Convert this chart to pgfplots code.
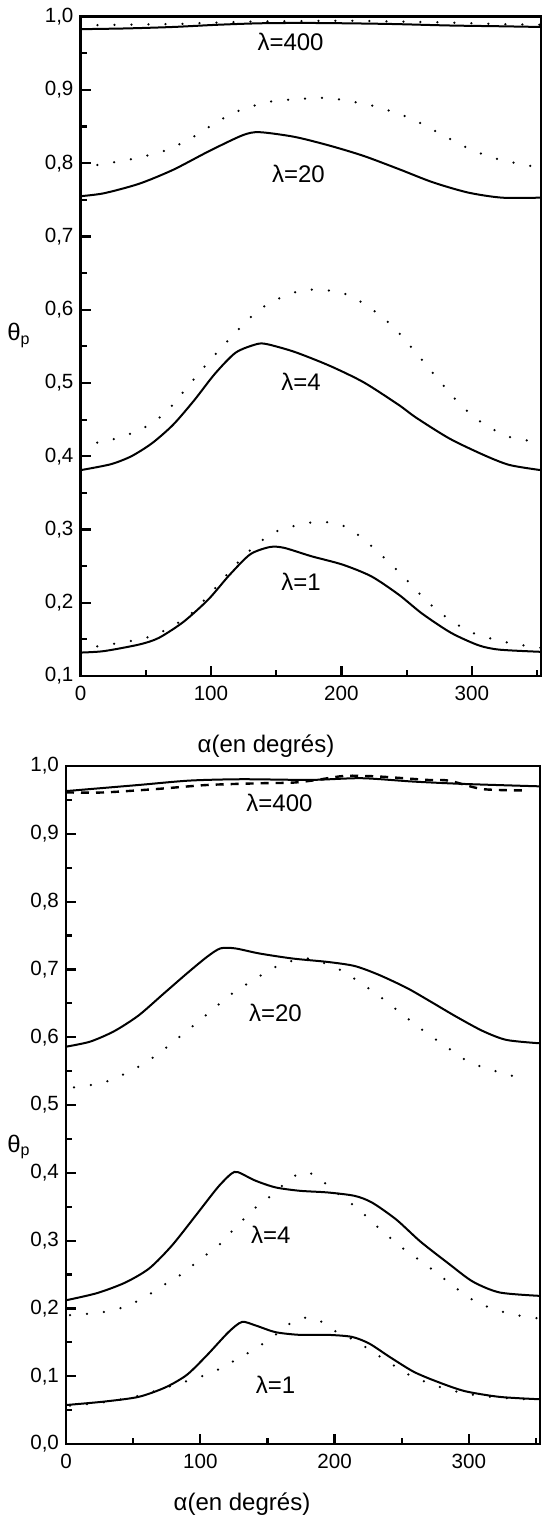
\documentclass[border=0pt]{standalone}
\usepackage{fontspec}
\setmainfont{Liberation Sans}
\usepackage{pgfplots}
\pgfplotsset{compat=1.18}

\pgfplotsset{
  thetaplot/.style={
    scale only axis,
    xmin=0, xmax=353,
    xtick={0,100,200,300},
    minor xtick={50,150,250,350},
    minor y tick num=1,
    tick align=inside,
    xtick pos=bottom, ytick pos=left,
    major tick length=5pt, minor tick length=3pt,
    every tick/.style={black, line width=1.1pt},
    axis line style={line width=1.4pt},
    tick label style={font=\fontsize{10.3}{12}\selectfont},
    /pgf/number format/assume math mode=true,
    yticklabel style={/pgf/number format/.cd, fixed, fixed zerofill, precision=1, use comma},
    xticklabel style={yshift=-1.5pt},
  },
  sol/.style={black, line width=1pt, smooth, tension=0.45},
  dotd/.style={black, line width=1.25pt, line cap=round, dash pattern=on 0pt off 8.5pt, smooth, tension=0.45},
  dashd/.style={black, line width=1.2pt, dash pattern=on 4pt off 3.5pt, smooth, tension=0.45},
}
\tikzset{lab/.style={font=\fontsize{12}{14}\selectfont}}

\begin{document}
\begin{tikzpicture}

% top panel
\begin{axis}[thetaplot,
  at={(40.25pt,-338pt)}, anchor=south west,
  width=230.25pt, height=329.65pt,
  ymin=0.1, ymax=1.0,
  ytick={0.1,0.2,0.3,0.4,0.5,0.6,0.7,0.8,0.9,1.0},
]
% lambda = 400
\addplot[sol] coordinates {
  (0,0.983) (35,0.984) (71,0.986) (105,0.989) (137,0.991) (170,0.9915)
  (204,0.991) (240,0.990) (283,0.988) (320,0.987) (353,0.986)
};
\addplot[dotd] coordinates {
  (0,0.988) (35,0.989) (71,0.990) (105,0.992) (137,0.9935) (170,0.994)
  (204,0.9945) (240,0.9935) (283,0.992) (320,0.990) (353,0.989)
};
% lambda = 20
\addplot[sol] coordinates {
  (0,0.755) (18,0.759) (45,0.772) (71,0.791) (98,0.816) (124,0.838)
  (137,0.8424) (164,0.836) (191,0.824) (217,0.810) (244,0.792)
  (270,0.774) (297,0.760) (323,0.753) (353,0.753)
};
\addplot[dotd] coordinates {
  (0,0.794) (39,0.8055) (66,0.818) (86,0.8355) (103,0.8545) (119,0.870)
  (145,0.884) (177,0.8885) (193,0.8885) (225,0.878) (252,0.862)
  (273,0.843) (294,0.823) (315,0.808) (342,0.797) (353,0.795)
};
% lambda = 4
\addplot[sol] coordinates {
  (0,0.381) (23,0.389) (39,0.400) (55,0.418) (71,0.443) (87,0.476)
  (103,0.5125) (119,0.5415) (135,0.553) (143,0.553) (164,0.5425)
  (191,0.5235) (217,0.501) (244,0.470) (257,0.453) (283,0.424)
  (310,0.401) (329,0.388) (353,0.381)
};
\addplot[dotd] coordinates {
  (0,0.414) (31,0.426) (53,0.443) (68,0.465) (84,0.499) (100,0.5325)
  (119,0.569) (130,0.589) (143,0.607) (161,0.622) (177,0.6275)
  (196,0.625) (207,0.6185) (220,0.605) (239,0.578) (257,0.5415)
  (276,0.501) (292,0.469) (310,0.443) (331,0.425) (353,0.4195)
};
% lambda = 1
\addplot[sol] coordinates {
  (0,0.132) (18,0.134) (45,0.143) (60,0.152) (79,0.174) (98,0.2045)
  (114,0.2375) (130,0.266) (145,0.276) (156,0.275) (177,0.2635)
  (201,0.252) (223,0.236) (244,0.211) (262,0.185) (284,0.159)
  (305,0.142) (321,0.136) (353,0.133)
};
\addplot[dotd] coordinates {
  (0,0.137) (31,0.1455) (50,0.152) (66,0.1635) (84,0.184) (100,0.2135)
  (119,0.252) (135,0.2795) (151,0.298) (169,0.307) (183,0.3105)
  (199,0.307) (214,0.291) (230,0.266) (246,0.2385) (265,0.203)
  (281,0.1795) (299,0.160) (321,0.148) (342,0.141) (353,0.1385)
};
\node[lab] at (axis cs:161,0.9655) {λ=400};
\node[lab] at (axis cs:167,0.785) {λ=20};
\node[lab] at (axis cs:169,0.502) {λ=4};
\node[lab] at (axis cs:169,0.2286) {λ=1};
\end{axis}

% bottom panel
\begin{axis}[thetaplot,
  at={(33pt,-722pt)}, anchor=south west,
  width=237pt, height=339pt,
  ymin=0, ymax=1.0,
  ytick={0,0.1,0.2,0.3,0.4,0.5,0.6,0.7,0.8,0.9,1.0},
]
% lambda = 400
\addplot[sol] coordinates {
  (0,0.963) (54,0.972) (92,0.9785) (131,0.9805) (182,0.9795) (220,0.982)
  (259,0.977) (297,0.9735) (353,0.970)
};
\addplot[dashd] coordinates {
  (0,0.961) (28,0.961) (67,0.966) (105,0.972) (144,0.9745) (169,0.9755)
  (187,0.9795) (208,0.9855) (233,0.9845) (269,0.9795) (285,0.9785)
  (310,0.966) (341,0.964)
};
% lambda = 20
\addplot[sol] coordinates {
  (0,0.586) (18,0.5935) (36,0.609) (54,0.632) (72,0.663) (90,0.694)
  (105,0.7185) (115,0.731) (126,0.731) (144,0.7235) (169,0.716)
  (195,0.711) (215,0.705) (233,0.692) (254,0.6725) (272,0.652)
  (290,0.631) (310,0.6095) (328,0.596) (353,0.591)
};
\addplot[dotd] coordinates {
  (6,0.526) (26,0.532) (41,0.5435) (58,0.561) (74,0.5835) (91,0.611)
  (108,0.6385) (123,0.6635) (141,0.686) (156,0.7035) (174,0.716)
  (183,0.715) (200,0.7035) (215,0.686) (233,0.661) (249,0.636)
  (267,0.6085) (285,0.5835) (300,0.5635) (318,0.551) (336,0.541) (344,0.536)
};
% lambda = 4
\addplot[sol] coordinates {
  (0,0.212) (23,0.2225) (44,0.238) (62,0.259) (79,0.293) (97,0.338)
  (113,0.3785) (123,0.3985) (128,0.401) (141,0.3885) (156,0.3785)
  (174,0.3735) (195,0.371) (215,0.366) (228,0.356) (246,0.331)
  (264,0.2985) (285,0.266) (303,0.2395) (323,0.2235) (353,0.2185)
};
\addplot[dotd] coordinates {
  (3,0.190) (26,0.194) (44,0.2025) (59,0.217) (74,0.236) (85,0.249)
  (100,0.2725) (115,0.2955) (126,0.319) (141,0.3485) (151,0.3635)
  (167,0.391) (176,0.401) (183,0.3985) (192,0.386) (200,0.373)
  (208,0.361) (218,0.346) (233,0.3185) (251,0.2885) (267,0.266)
  (285,0.2385) (300,0.216) (318,0.199) (336,0.190) (353,0.185)
};
% lambda = 1
\addplot[sol] coordinates {
  (0,0.0575) (28,0.0625) (54,0.0695) (74,0.0835) (90,0.102) (105,0.131)
  (121,0.165) (131,0.180) (141,0.175) (156,0.165) (174,0.161)
  (195,0.161) (213,0.158) (226,0.148) (241,0.1285) (259,0.1065)
  (277,0.0915) (297,0.078) (323,0.0695) (353,0.066)
};
\addplot[dotd] coordinates {
  (3,0.0565) (28,0.0615) (54,0.071) (74,0.083) (92,0.094) (110,0.1065)
  (126,0.1235) (141,0.1405) (154,0.158) (167,0.178) (177,0.186)
  (187,0.184) (200,0.167) (210,0.158) (223,0.143) (238,0.1235)
  (256,0.1015) (274,0.087) (297,0.0745) (323,0.0685) (353,0.065)
};
\node[lab] at (axis cs:159,0.9455) {λ=400};
\node[lab] at (axis cs:156,0.636) {λ=20};
\node[lab] at (axis cs:152.5,0.3085) {λ=4};
\node[lab] at (axis cs:156,0.0868) {λ=1};
\end{axis}

\node[lab] at (9.5pt,-167.8pt) {θ\textsubscript{p}};
\node[lab] at (9.5pt,-573.4pt) {θ\textsubscript{p}};
\node[lab, anchor=base] at (133pt,-376.4pt) {α(en degrés)};
\node[lab, anchor=base] at (121pt,-755pt) {α(en degrés)};

\pgfresetboundingbox
\useasboundingbox (0,0) rectangle (272pt,-757.5pt);
\end{tikzpicture}
\end{document}
